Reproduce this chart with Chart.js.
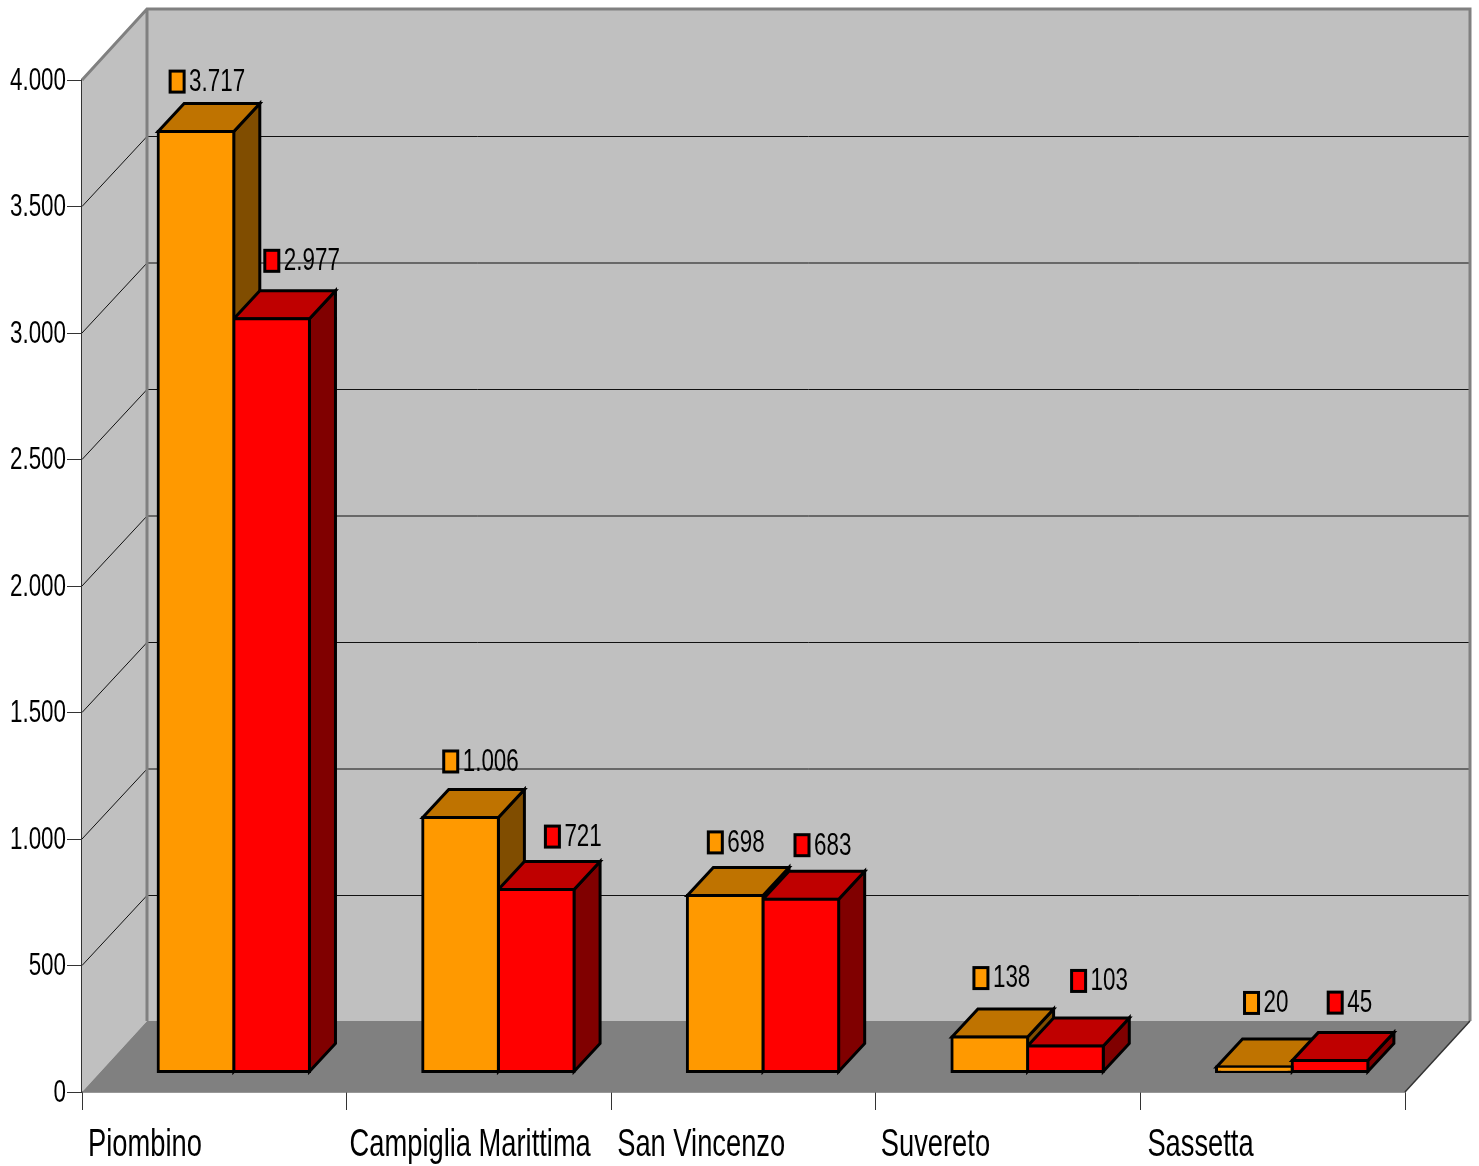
<!DOCTYPE html>
<html>
<head>
<meta charset="utf-8">
<title>Piombino</title>
<script src="https://cdn.jsdelivr.net/npm/chart.js@4"></script>
<style>
  body { margin: 0; background: #fff; }
  #wrap { position: relative; width: 1479px; height: 1166px; }
</style>
</head>
<body>
<div id="wrap"><canvas id="chart"></canvas></div>
<script>
const categories = ["Piombino", "Campiglia Marittima", "San Vincenzo", "Suvereto", "Sassetta"];
const orangeValues = [3717, 1006, 698, 138, 20];
const redValues = [2977, 721, 683, 103, 45];
const orangeLabels = ["3.717", "1.006", "698", "138", "20"];
const redLabels = ["2.977", "721", "683", "103", "45"];
const yTickLabels = ["0", "500", "1.000", "1.500", "2.000", "2.500", "3.000", "3.500", "4.000"];

const fontName = "'Liberation Sans', sans-serif";
// the original text is squeezed sideways, no narrow font here so scale it
const squeeze = 0.7;

// fake 3d: how far the back wall, the bars and the bar tops are shifted
const wall = { dx: 65, dy: -71 };
const barFront = { dx: 19.5, dy: -20 };
const barDepth = { dx: 26, dy: -28 };

// value labels are placed by hand in the original, offset from the bar's back top edge
const orangeNudge = [[12, -22], [21, -28], [21, -25], [22, -31], [28, -36]];
const redNudge = [[31, -30], [47, -25], [32, -26], [44, -37], [36, -30]];
const categoryNudge = [6, 3, 6, 5, 7];

function poly(ctx, points, fill, stroke, lineWidth) {
  ctx.beginPath();
  points.forEach((p, i) => (i === 0 ? ctx.moveTo(p[0], p[1]) : ctx.lineTo(p[0], p[1])));
  ctx.closePath();
  if (fill) {
    ctx.fillStyle = fill;
    ctx.fill();
  }
  if (stroke) {
    ctx.strokeStyle = stroke;
    ctx.lineWidth = lineWidth;
    ctx.lineJoin = "miter";
    ctx.stroke();
  }
}

function narrowText(ctx, text, x, y, size, align, baseline) {
  ctx.save();
  ctx.translate(x, y);
  ctx.scale(squeeze, 1);
  ctx.font = size + "px " + fontName;
  ctx.textAlign = align;
  ctx.textBaseline = baseline;
  ctx.fillStyle = "#000";
  ctx.fillText(text, 0, 0);
  ctx.restore();
}

function barRect(el) {
  const left = el.x - el.width / 2 + barFront.dx;
  const right = el.x + el.width / 2 + barFront.dx;
  return { left, right, top: el.y + barFront.dy, bottom: el.base + barFront.dy };
}

const wallsPlugin = {
  id: "walls",
  beforeDatasetsDraw(chart) {
    const ctx = chart.ctx;
    const { left, right, top, bottom } = chart.chartArea;
    const y = chart.scales.y;
    const bx = left + wall.dx;
    const by = wall.dy;
    ctx.save();
    // back and side wall
    poly(ctx, [[bx, top + by], [right + wall.dx, top + by], [right + wall.dx, bottom + by], [bx, bottom + by]], "#c0c0c0");
    poly(ctx, [[left, top], [bx, top + by], [bx, bottom + by], [left, bottom]], "#c0c0c0");
    // floor
    poly(ctx, [[left, bottom], [bx, bottom + by], [right + wall.dx, bottom + by], [right, bottom]], "#808080");
    // grid lines bend around the corner
    ctx.strokeStyle = "#111";
    ctx.lineWidth = 1;
    y.ticks.forEach((t) => {
      if (t.value === 0 || t.value === 4000) return;
      const py = y.getPixelForValue(t.value) + 1;
      ctx.beginPath();
      ctx.moveTo(left, py - 1);
      ctx.lineTo(bx, py + by);
      ctx.lineTo(right + wall.dx, py + by);
      ctx.stroke();
    });
    // grey wall edges
    ctx.strokeStyle = "#808080";
    ctx.lineWidth = 3;
    ctx.beginPath();
    ctx.moveTo(left, top);
    ctx.lineTo(bx, top + by);
    ctx.lineTo(right + wall.dx, top + by);
    ctx.lineTo(right + wall.dx, bottom + by);
    ctx.moveTo(bx, top + by);
    ctx.lineTo(bx, bottom + by);
    ctx.stroke();
    ctx.lineWidth = 1.5;
    ctx.strokeStyle = "#333";
    ctx.beginPath();
    ctx.moveTo(right, bottom);
    ctx.lineTo(right + wall.dx, bottom + by);
    ctx.stroke();

    // top and side of the bars go under all the fronts
    categories.forEach((c, i) => {
      chart.data.datasets.forEach((ds, d) => {
        const r = barRect(chart.getDatasetMeta(d).data[i]);
        const dx = barDepth.dx;
        const dy = barDepth.dy;
        poly(ctx, [[r.right, r.top], [r.right + dx, r.top + dy], [r.right + dx, r.bottom + dy], [r.right, r.bottom]], ds.sideColor, "#000", 3);
        poly(ctx, [[r.left, r.top], [r.left + dx, r.top + dy], [r.right + dx, r.top + dy], [r.right, r.top]], ds.topColor, "#000", 3);
      });
    });
    ctx.restore();
  },
  // fronts sit a little behind the axis plane
  beforeDatasetDraw(chart) {
    chart.ctx.save();
    chart.ctx.translate(barFront.dx, barFront.dy);
  },
  afterDatasetDraw(chart) {
    chart.ctx.restore();
  },
  afterDatasetsDraw(chart) {
    const ctx = chart.ctx;
    const { x, y } = chart.scales;
    // value labels with their little colour key
    chart.data.datasets.forEach((ds, d) => {
      chart.getDatasetMeta(d).data.forEach((el, i) => {
        const r = barRect(el);
        const sx = r.left + ds.nudge[i][0];
        const cy = r.top + barDepth.dy + ds.nudge[i][1];
        ctx.save();
        ctx.fillStyle = ds.backgroundColor;
        ctx.strokeStyle = "#000";
        ctx.lineWidth = 3;
        ctx.fillRect(sx, cy - 10.5, 14, 21);
        ctx.strokeRect(sx, cy - 10.5, 14, 21);
        ctx.restore();
        narrowText(ctx, ds.valueLabels[i], sx + 19, cy + 0.5, 32, "left", "middle");
      });
    });
    // axis labels, the scales only draw their tick marks
    y.ticks.forEach((t, i) => {
      narrowText(ctx, t.label, y.right - 16, y.getPixelForTick(i) + 1, 32, "right", "middle");
    });
    const band = x.width / categories.length;
    x.ticks.forEach((t, i) => {
      narrowText(ctx, t.label, x.getPixelForTick(i) - band / 2 + categoryNudge[i], 1156, 39, "left", "alphabetic");
    });
  },
};

new Chart(document.getElementById("chart"), {
  type: "bar",
  data: {
    labels: categories,
    datasets: [
      {
        data: orangeValues,
        backgroundColor: "#ff9900",
        topColor: "#bf7300",
        sideColor: "#804d00",
        valueLabels: orangeLabels,
        nudge: orangeNudge,
      },
      {
        data: redValues,
        backgroundColor: "#ff0000",
        topColor: "#bf0000",
        sideColor: "#800000",
        valueLabels: redLabels,
        nudge: redNudge,
      },
    ],
  },
  options: {
    responsive: true,
    maintainAspectRatio: false,
    animation: false,
    layout: { padding: { top: 80, right: 74, left: 0, bottom: 0 } },
    categoryPercentage: 0.572,
    barPercentage: 1,
    datasets: {
      bar: {
        clip: false,
        borderColor: "#000",
        borderWidth: 3,
        borderSkipped: false,
        inflateAmount: 1.5,
      },
    },
    plugins: { legend: { display: false }, tooltip: { enabled: false } },
    scales: {
      x: {
        afterFit: (scale) => {
          scale.height = 74;
        },
        grid: { offset: true, drawOnChartArea: false, tickLength: 18, color: "#333", tickColor: "#333" },
        border: { display: true, color: "#333", width: 1.5 },
        ticks: { display: false, autoSkip: false, maxRotation: 0 },
      },
      y: {
        min: 0,
        max: 4000,
        afterFit: (scale) => {
          scale.width = 82;
        },
        grid: { drawOnChartArea: false, tickLength: 15, color: "#333", tickColor: "#333" },
        border: { display: true, color: "#333", width: 1.5 },
        ticks: {
          display: false,
          stepSize: 500,
          callback: (value, index) => yTickLabels[index],
        },
      },
    },
  },
  plugins: [wallsPlugin],
});
</script>
</body>
</html>
